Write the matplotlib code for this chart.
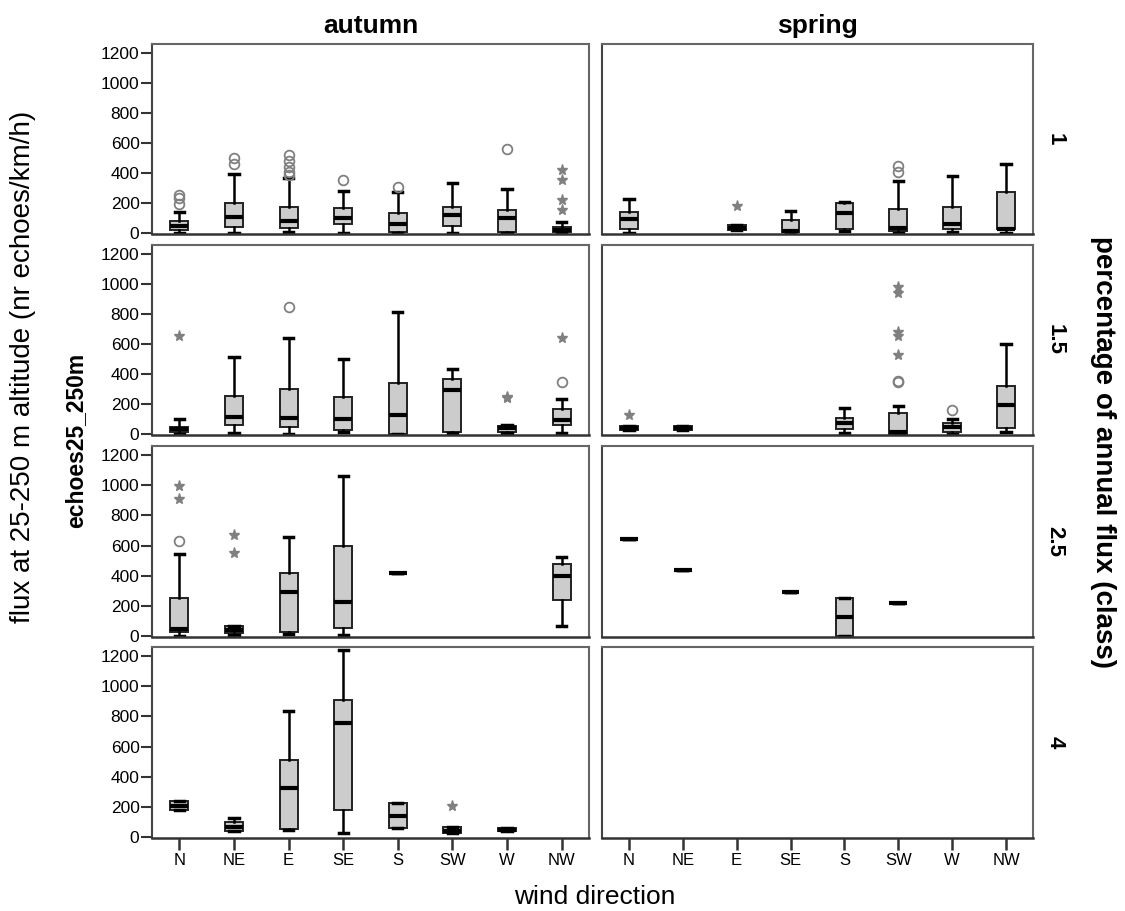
import matplotlib
matplotlib.use("Agg")
import matplotlib.pyplot as plt

plt.rcParams['font.family'] = ['Liberation Sans', 'DejaVu Sans']

directions = ['N', 'NE', 'E', 'SE', 'S', 'SW', 'W', 'NW']
seasons = ['autumn', 'spring']
flux_classes = ['1', '1.5', '2.5', '4']

# box stats per direction: (whislo, q1, median, q3, whishi), None = no data
autumn_1 = [(0, 20, 49, 82, 142), (0, 42, 108, 199, 394), (5, 38, 82, 177, 365),
            (0, 60, 100, 166, 283), (0, 11, 64, 133, 272), (0, 49, 120, 175, 332),
            (0, 9, 104, 153, 292), (0, 5, 20, 40, 75)]
spring_1 = [(0, 27, 93, 142, 226), None, (20, 20, 35, 55, 55),
            (0, 9, 15, 89, 148), (13, 27, 137, 201, 206), (0, 15, 38, 159, 350),
            (9, 27, 64, 175, 381), (0, 27, 31, 272, 460)]
autumn_15 = [(0, 15, 33, 51, 104), (7, 62, 115, 253, 511), (0, 51, 110, 304, 643),
             (15, 26, 104, 249, 502), (0, 0, 128, 341, 815), (10, 15, 293, 370, 436),
             (10, 15, 42, 55, 60), (11, 59, 92, 170, 236)]
spring_15 = [(26, 26, 42, 55, 55), (28, 28, 42, 55, 55), None, None,
             (7, 33, 77, 106, 172), (0, 4, 15, 141, 187), (0, 18, 46, 75, 104),
             (18, 40, 194, 319, 599)]
autumn_25 = [(4, 26, 50, 250, 545), (11, 22, 44, 66, 66), (15, 28, 291, 420, 659),
             (11, 53, 226, 594, 1062), (416, 416, 416, 416, 416), None, None,
             (70, 241, 398, 481, 525)]
spring_25 = [(644, 644, 644, 644, 644), (440, 440, 440, 440, 440), None,
             (291, 291, 291, 291, 291), (0, 0, 129, 252, 252), (219, 219, 219, 219, 219),
             None, None]
autumn_4 = [(177, 177, 207, 238, 238), (44, 44, 70, 98, 127), (50, 55, 323, 508, 838),
            (28, 179, 753, 908, 1239), (59, 59, 142, 225, 225), (28, 28, 39, 65, 65),
            (39, 39, 50, 61, 61), None]
spring_4 = [None] * 8

# outliers (circles) and extremes (stars) by direction index
autumn_1_circles = {0: [255, 232, 197], 1: [502, 458], 2: [520, 480, 440, 410, 385],
                    3: [352], 4: [310], 6: [560]}
autumn_1_stars = {7: [423, 352, 221, 153]}
spring_1_circles = {5: [447, 407]}
spring_1_stars = {2: [182]}
autumn_15_circles = {2: [844], 7: [346]}
autumn_15_stars = {0: [654], 6: [248, 240], 7: [639]}
spring_15_circles = {5: [352, 344], 6: [161]}
spring_15_stars = {0: [128], 5: [980, 936, 678, 654, 529]}
autumn_25_circles = {0: [631]}
autumn_25_stars = {0: [994, 906], 1: [668, 552]}
autumn_4_stars = {5: [205]}

panels = {
    (0, 0): (autumn_1, autumn_1_circles, autumn_1_stars),
    (0, 1): (spring_1, spring_1_circles, spring_1_stars),
    (1, 0): (autumn_15, autumn_15_circles, autumn_15_stars),
    (1, 1): (spring_15, spring_15_circles, spring_15_stars),
    (2, 0): (autumn_25, autumn_25_circles, autumn_25_stars),
    (2, 1): (spring_25, {}, {}),
    (3, 0): (autumn_4, {}, autumn_4_stars),
    (3, 1): (spring_4, {}, {}),
}

W, H = 1125, 911
fig = plt.figure(figsize=(W / 100, H / 100), dpi=100)

col_x = [(152, 437), (602, 431)]
row_y = [(44, 234), (245, 435), (446, 637), (647, 838)]

frame_col = '#666666'
pt_col = '#808080'

for (r, c), (stats, circles, stars) in panels.items():
    x0, w = col_x[c]
    top, bot = row_y[r]
    ax = fig.add_axes([x0 / W, 1 - bot / H, w / W, (bot - top) / H])

    bxp_stats, pos = [], []
    for i, s in enumerate(stats):
        if s is None:
            continue
        lo, q1, med, q3, hi = s
        bxp_stats.append(dict(whislo=lo, q1=q1, med=med, q3=q3, whishi=hi, fliers=[]))
        pos.append(i)
    if bxp_stats:
        ax.bxp(bxp_stats, positions=pos, widths=0.33, capwidths=0.17,
               patch_artist=True, showfliers=False,
               boxprops=dict(facecolor='#cccccc', edgecolor='#222222', linewidth=1.4),
               medianprops=dict(color='black', linewidth=3, solid_capstyle='butt'),
               whiskerprops=dict(color='black', linewidth=1.8),
               capprops=dict(color='black', linewidth=2.5))
    for i, vals in circles.items():
        ax.plot([i] * len(vals), vals, 'o', ms=7, mfc='none', mec=pt_col, mew=1.3,
                linestyle='none')
    for i, vals in stars.items():
        ax.plot([i] * len(vals), vals, '*', ms=8, color=pt_col, linestyle='none')

    ax.set_xlim(-0.5, 7.5)
    ax.set_ylim(-5, 1258)
    for side in ['top', 'right']:
        ax.spines[side].set_color(frame_col)
        ax.spines[side].set_linewidth(1.5)
    ax.spines['left'].set_color('#444444')
    ax.spines['left'].set_linewidth(1.5)
    ax.spines['bottom'].set_color('#333333')
    ax.spines['bottom'].set_linewidth(1.8)

    ax.set_yticks(range(0, 1201, 200))
    if c == 0:
        ax.tick_params(axis='y', length=8, width=1.5, color='#333333',
                       labelsize=12.5, pad=1)
    else:
        ax.tick_params(axis='y', left=False, labelleft=False)

    ax.set_xticks(range(8))
    if r == 3:
        ax.set_xticklabels(directions)
        ax.tick_params(axis='x', length=8.5, width=1.8, color='#333333',
                       labelsize=12, pad=2)
    else:
        ax.tick_params(axis='x', bottom=False, labelbottom=False)

    if r == 0:
        ax.set_title(seasons[c], fontsize=19, fontweight='bold', pad=8)
    if c == 1:
        ax.text(1055 / W, 1 - (top + bot) / 2 / H, flux_classes[r],
                transform=fig.transFigure, rotation=-90,
                ha='center', va='center', fontsize=16, fontweight='bold')

fig.text(595 / W, 1 - 897 / H, 'wind direction', ha='center', va='center', fontsize=19)
fig.text(23 / W, 1 - 367 / H, 'flux at 25-250 m altitude (nr echoes/km/h)',
         rotation=90, ha='center', va='center', fontsize=20)
fig.text(76 / W, 1 - 440 / H, 'echoes25_250m', rotation=90, ha='center',
         va='center', fontsize=16.5, fontweight='bold')
fig.text(1103 / W, 1 - 452 / H, 'percentage of annual flux (class)', rotation=-90,
         ha='center', va='center', fontsize=20, fontweight='bold')

fig.savefig('out.png', dpi=100)
